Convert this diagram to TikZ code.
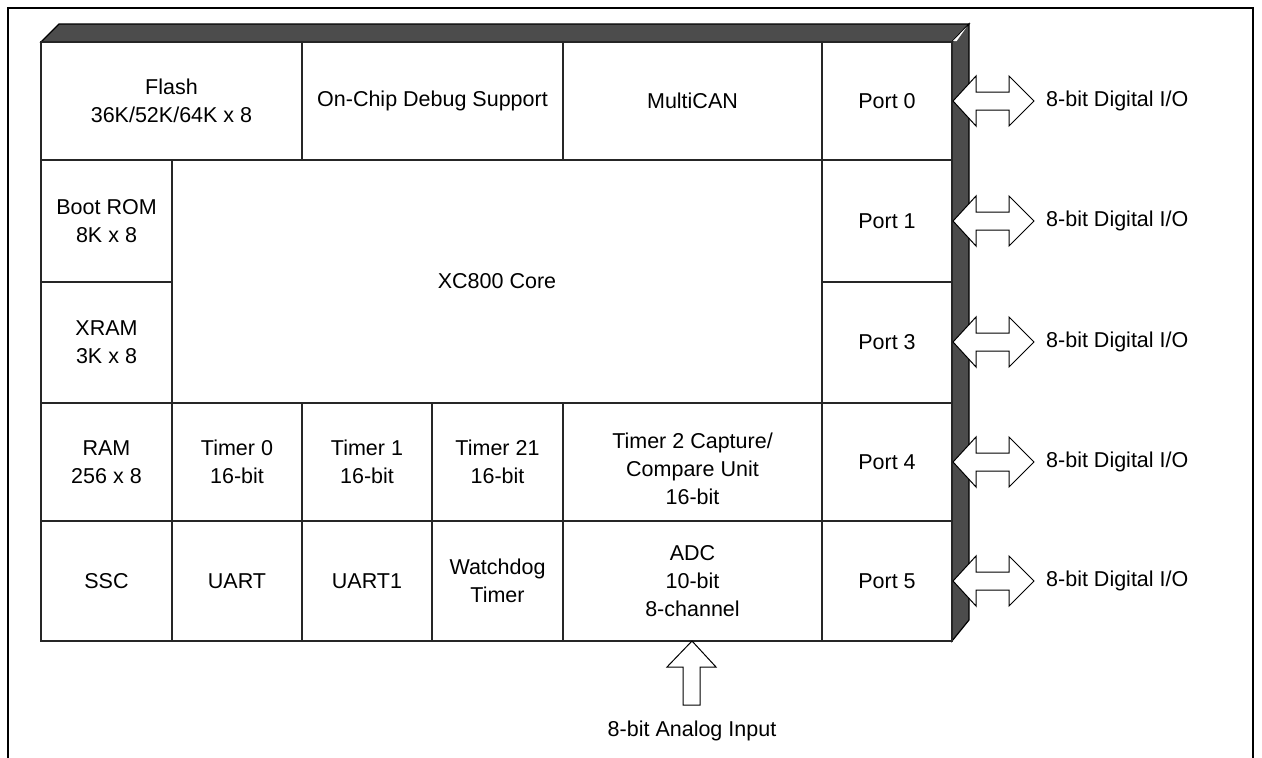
\documentclass[tikz,border=0pt]{standalone}
\usepackage{fontspec}
\setmainfont{Liberation Sans}
\begin{document}
\begin{tikzpicture}[x=1pt,y=-1pt,
  cell/.style={draw=black!85, line width=1.4pt, align=center, inner sep=0pt,
    font=\fontsize{21.5}{28}\selectfont},
  lbl/.style={inner sep=0pt, font=\fontsize{21.5}{28}\selectfont},
  bev/.style={fill=black!70, draw=black, line width=1.2pt},
  barrow/.style={fill=white, draw=black, line width=1pt, line join=miter}]
\useasboundingbox (0,0) rectangle (1262,758);
% outer frame
\draw[line width=2.6pt] (8,758) -- (8,8) -- (1253,8) -- (1253,758);
% 3D bevel
\draw[bev] (41,42) -- (59,24) -- (969,24) -- (952,42) -- cycle;
\draw[bev] (952,42) -- (969,24) -- (969,620) -- (952,641) -- cycle;
\fill[white] (952.8,41.2) -- (967,26.5) -- (956.5,41.2) -- cycle;
% row 1
\node[cell, minimum width=261pt, minimum height=118pt] (flash) at (171.5,101) {Flash\\36K/52K/64K x 8};
\node[cell, minimum width=261pt, minimum height=118pt] (ocds) at (432.5,101) {On-Chip Debug Support};
\node[cell, minimum width=259pt, minimum height=118pt] (mcan) at (692.5,101) {MultiCAN};
\node[cell, minimum width=130pt, minimum height=118pt] (p0) at (887,101) {Port 0};
% rows 2-3
\node[cell, minimum width=131pt, minimum height=122pt] (brom) at (106.5,221) {Boot ROM\\8K x 8};
\node[cell, minimum width=131pt, minimum height=121pt] (xram) at (106.5,342.5) {XRAM\\3K x 8};
\node[cell, minimum width=650pt, minimum height=243pt] (core) at (497,281.5) {XC800 Core};
\node[cell, minimum width=130pt, minimum height=122pt] (p1) at (887,221) {Port 1};
\node[cell, minimum width=130pt, minimum height=121pt] (p3) at (887,342.5) {Port 3};
% row 4
\node[cell, minimum width=131pt, minimum height=118pt] (ram) at (106.5,462) {RAM\\256 x 8};
\node[cell, minimum width=130pt, minimum height=118pt] (t0) at (237,462) {Timer 0\\16-bit};
\node[cell, minimum width=130pt, minimum height=118pt] (t1) at (367,462) {Timer 1\\16-bit};
\node[cell, minimum width=131pt, minimum height=118pt] (t21) at (497.5,462) {Timer 21\\16-bit};
\node[cell, minimum width=259pt, minimum height=118pt] (t2) at (692.5,462) {};
\node[lbl, align=center] at (692.5,469) {Timer 2 Capture/\\Compare Unit\\16-bit};
\node[cell, minimum width=130pt, minimum height=118pt] (p4) at (887,462) {Port 4};
% row 5
\node[cell, minimum width=131pt, minimum height=120pt] (ssc) at (106.5,581) {SSC};
\node[cell, minimum width=130pt, minimum height=120pt] (uart) at (237,581) {UART};
\node[cell, minimum width=130pt, minimum height=120pt] (uart1) at (367,581) {UART1};
\node[cell, minimum width=131pt, minimum height=120pt] (wdt) at (497.5,581) {Watchdog\\Timer};
\node[cell, minimum width=259pt, minimum height=120pt] (adc) at (692.5,581) {ADC\\10-bit\\8-channel};
\node[cell, minimum width=130pt, minimum height=120pt] (p5) at (887,581) {Port 5};
% digital I/O arrows
\foreach \n/\yc in {0/101,1/221,3/342,4/462,5/581}{
  \coordinate (io\n) at (953,\yc);
  \draw[barrow] (io\n) -- ++(23,-25) -- ++(0,16) -- ++(33,0) -- ++(0,-16) -- ++(25,25)
     -- ++(-25,25) -- ++(0,-16) -- ++(-33,0) -- ++(0,16) -- cycle;
  \node[lbl, anchor=west] (dio\n) at (1046,\yc) {8-bit Digital I/O};
}
% analog input arrow
\coordinate (ain) at (692,641);
\draw[barrow] (ain) -- ++(24,26) -- ++(-16,0) -- ++(0,38) -- ++(-17,0) -- ++(0,-38) -- ++(-16,0) -- cycle;
\node[lbl] (alabel) at (692,731) {8-bit Analog Input};
\end{tikzpicture}
\end{document}
